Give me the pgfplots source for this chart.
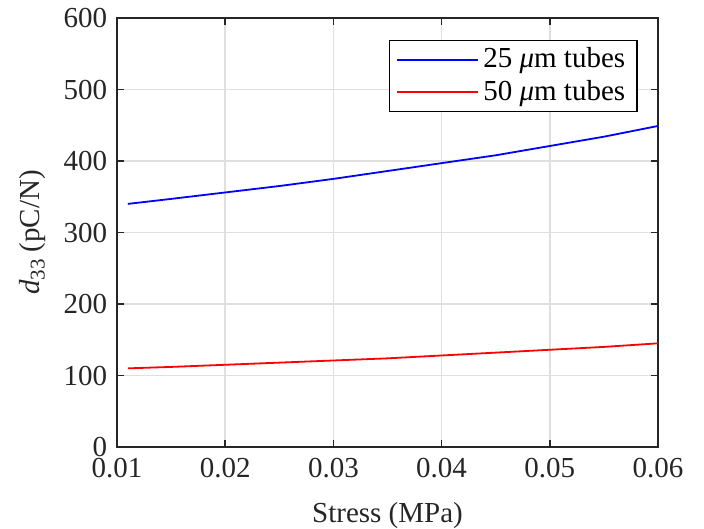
\documentclass[border=0pt]{standalone}
\usepackage{pgfplots}
\pgfplotsset{compat=1.18}
\usepackage{fontspec}
\setmainfont{Liberation Serif}
\definecolor{axc}{RGB}{38,38,38}
\definecolor{gridc}{RGB}{223,223,223}
\pgfplotsset{legend image code/.code={\draw[#1] (0bp,0bp) -- (80bp,0bp);}}
\begin{document}
\fontsize{29bp}{34bp}\selectfont
\begin{tikzpicture}
\begin{axis}[
  at={(0,0)}, anchor=south west,
  scale only axis,
  width=541bp, height=429bp,
  xmin=0.01, xmax=0.06, ymin=0, ymax=600,
  xtick={0.01,0.02,0.03,0.04,0.05,0.06},
  ytick={0,100,...,600},
  xticklabels={0.01,0.02,0.03,0.04,0.05,0.06},
  scaled x ticks=false,
  /pgf/number format/assume math mode=true,
  grid=major,
  major grid style={gridc, line width=1.6bp},
  axis line style={axc, line width=1.5bp},
  tick style={axc, line width=1.5bp},
  major tick length=7bp,
  tick align=inside,
  every tick label/.append style={font=\fontsize{29bp}{34bp}\selectfont, text=axc},
  xticklabel style={yshift=-1bp},
  xlabel={Stress (MPa)},
  ylabel={\textit{d}\raisebox{-0.35ex}{\fontsize{21bp}{24bp}\selectfont 33} (pC/N)},
  label style={font=\fontsize{29bp}{34bp}\selectfont, text=axc},
  xlabel style={yshift=-5bp},
  ylabel style={yshift=-2bp},
  legend style={at={(0.963,0.949)}, anchor=north east, draw=black, line width=1.5bp,
    font=\fontsize{29bp}{34bp}\selectfont, inner xsep=7bp, inner ysep=5bp,
    row sep=4bp, nodes={inner xsep=5bp}},
  legend cell align=left,
]
\addplot[blue, line width=1.8bp] coordinates {
(0.011,340) (0.015,347) (0.02,356) (0.025,365) (0.03,375) (0.035,386)
(0.04,397) (0.045,408) (0.05,421) (0.055,434) (0.06,449)};
\addlegendentry{25 \textit{μ}m tubes}
\addplot[red, line width=1.8bp] coordinates {
(0.011,110) (0.015,112) (0.02,115) (0.025,118) (0.03,121) (0.035,124)
(0.04,128) (0.045,132) (0.05,136) (0.055,140) (0.06,145)};
\addlegendentry{50 \textit{μ}m tubes}
\end{axis}
\pgfresetboundingbox
\path (-117bp,-82bp) rectangle (587bp,447bp);
\end{tikzpicture}
\end{document}
